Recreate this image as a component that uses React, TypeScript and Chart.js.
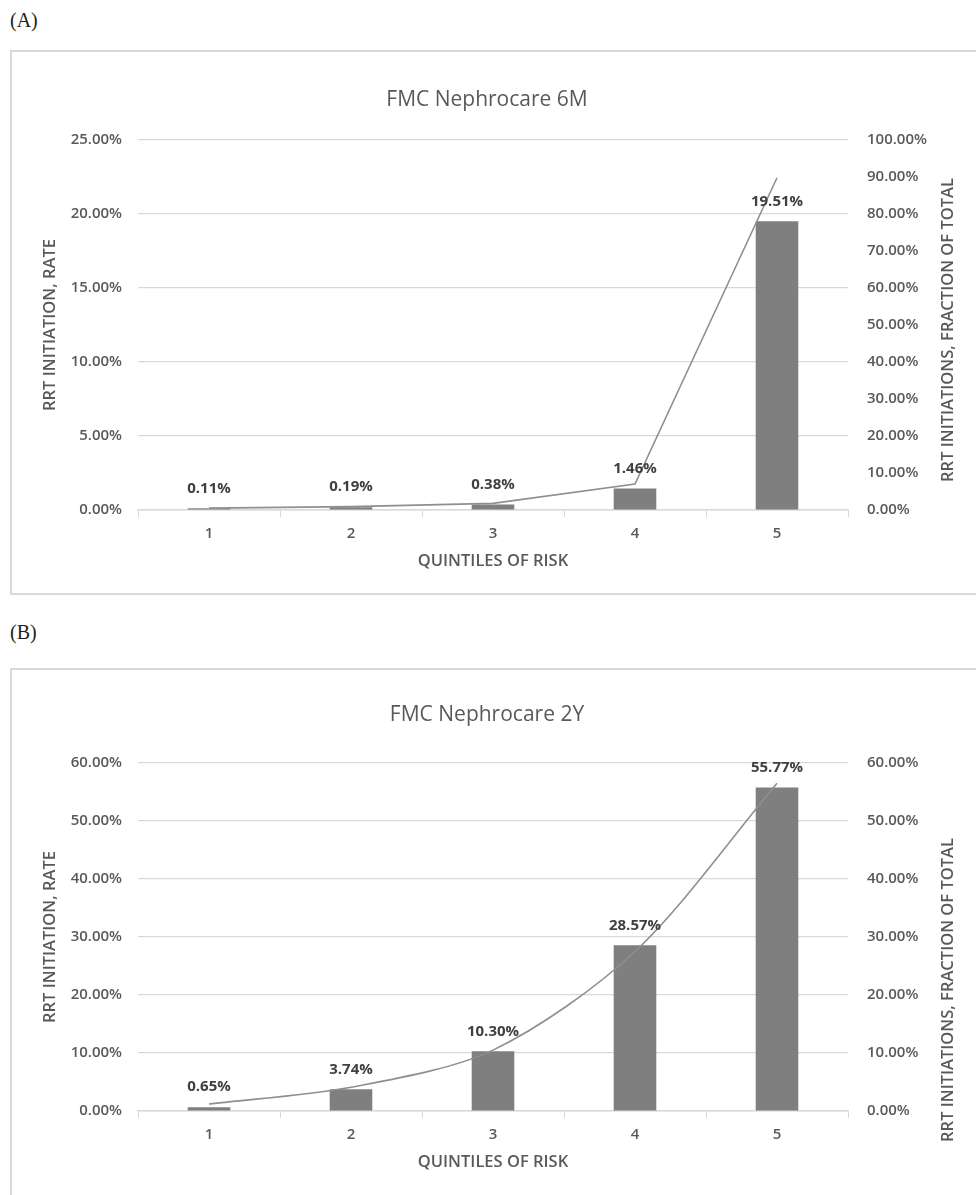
import React, { useEffect, useRef } from "react";
import { Chart, registerables } from "chart.js";

Chart.register(...registerables);

// ---------- data ----------
const categories = ["1", "2", "3", "4", "5"];

const rate6M = [0.11, 0.19, 0.38, 1.46, 19.51];
const fraction6M = [0.5, 0.9, 1.8, 7.0, 89.8];

const rate2Y = [0.65, 3.74, 10.3, 28.57, 55.77];
const fraction2Y = [1.2, 4.1, 10.5, 27.5, 56.5];

const title6M = "FMC Nephrocare 6M";
const title2Y = "FMC Nephrocare 2Y";
const panelA = "(A)";
const panelB = "(B)";
const leftAxisTitle = "RRT INITIATION, RATE";
const rightAxisTitle = "RRT INITIATIONS, FRACTION OF TOTAL";
const xAxisTitle = "QUINTILES OF RISK";

// ---------- styling ----------
const FONT = "'Open Sans', 'Noto Sans', sans-serif";
const TEXT = "#595959";
const GRID = "#d9d9d9";
const BAR = "#7f7f7f";
const LINE = "#8f8f8f";

const BOX_LEFT = 10;
const CANVAS_W = 970;

type Props = {
  top: number;
  padTop: number;
  plotH: number;
  boxH: number;
  title: string;
  titleY: number;
  rightTitleY: number;
  rates: number[];
  fractions: number[];
  leftMax: number;
  leftStep: number;
  rightMax: number;
  rightStep: number;
  tension: number;
};

function ComboChart(p: Props) {
  const ref = useRef<HTMLCanvasElement | null>(null);
  const bottomGap = 85;
  const canvasH = p.padTop + p.plotH + bottomGap;

  useEffect(() => {
    if (!ref.current) return;
    const decor = {
      id: "decor",
      afterDatasetsDraw(chart: any) {
        const ctx = chart.ctx;
        ctx.save();
        const meta = chart.getDatasetMeta(0);
        ctx.font = `bold 15px ${FONT}`;
        ctx.fillStyle = "#404040";
        ctx.textAlign = "center";
        ctx.textBaseline = "middle";
        meta.data.forEach((el: any, i: number) => {
          ctx.fillText(p.rates[i].toFixed(2) + "%", el.x, el.y - 20);
        });
        ctx.restore();
      },
      afterDraw(chart: any) {
        const ctx = chart.ctx;
        const a = chart.chartArea;
        ctx.save();
        ctx.fillStyle = TEXT;
        ctx.textAlign = "center";
        ctx.textBaseline = "middle";
        // chart title
        ctx.font = `21px ${FONT}`;
        ctx.fillText(p.title, 477, p.titleY);
        // x axis title
        ctx.font = `600 16.5px ${FONT}`;
        ctx.fillText(xAxisTitle, (a.left + a.right) / 2, a.bottom + 51);
        // left axis title
        ctx.save();
        ctx.translate(40, (a.top + a.bottom) / 2);
        ctx.rotate(-Math.PI / 2);
        ctx.fillText(leftAxisTitle, 0, 0);
        ctx.restore();
        // right axis title
        ctx.save();
        ctx.translate(938, p.rightTitleY);
        ctx.rotate(-Math.PI / 2);
        ctx.fillText(rightAxisTitle, 0, 0);
        ctx.restore();
        ctx.restore();
      },
    };

    const tickFont = { family: FONT, size: 15, weight: "600" };
    const chart = new Chart(ref.current, {
      type: "bar",
      data: {
        labels: categories,
        datasets: [
          {
            type: "bar",
            data: p.rates,
            backgroundColor: BAR,
            barPercentage: 0.3,
            categoryPercentage: 1.0,
            yAxisID: "y",
            order: 2,
          } as any,
          {
            type: "line",
            data: p.fractions,
            borderColor: LINE,
            borderWidth: 1.6,
            pointRadius: 0,
            fill: false,
            tension: p.tension,
            yAxisID: "y1",
            order: 1,
          } as any,
        ],
      },
      options: {
        animation: false,
        responsive: false,
        devicePixelRatio: 1,
        layout: { padding: { top: p.padTop, left: 0, right: 0, bottom: 0 } },
        plugins: {
          legend: { display: false },
          tooltip: { enabled: false },
          title: { display: false },
        },
        scales: {
          x: {
            offset: true,
            grid: {
              offset: true,
              drawOnChartArea: false,
              drawTicks: true,
              tickLength: 7,
              color: GRID,
            },
            border: { color: GRID, width: 1.5 },
            ticks: { color: TEXT, font: tickFont, padding: 8 },
            afterFit: (s: any) => {
              s.height = bottomGap;
            },
          },
          y: {
            position: "left",
            min: 0,
            max: p.leftMax,
            ticks: {
              stepSize: p.leftStep,
              color: TEXT,
              font: tickFont,
              padding: 16,
              callback: (v: any) => Number(v).toFixed(2) + "%",
            },
            grid: { color: GRID, drawTicks: false, lineWidth: 1.2 },
            border: { display: false },
            afterFit: (s: any) => {
              s.width = 128;
            },
          },
          y1: {
            position: "right",
            min: 0,
            max: p.rightMax,
            ticks: {
              stepSize: p.rightStep,
              color: TEXT,
              font: tickFont,
              padding: 19,
              callback: (v: any) => Number(v).toFixed(2) + "%",
            },
            grid: { drawOnChartArea: false, drawTicks: false },
            border: { display: false },
            afterFit: (s: any) => {
              s.width = 132;
            },
          },
        },
      } as any,
      plugins: [decor as any],
    });
    return () => chart.destroy();
  }, []);

  return (
    <>
      <div
        style={{
          position: "absolute",
          left: BOX_LEFT,
          top: p.top,
          width: CANVAS_W + 10,
          height: p.boxH,
          border: `2px solid ${GRID}`,
          boxSizing: "border-box",
          background: "#fff",
        }}
      />
      <canvas
        ref={ref}
        width={CANVAS_W}
        height={canvasH}
        style={{
          position: "absolute",
          left: BOX_LEFT,
          top: p.top,
          width: CANVAS_W,
          height: canvasH,
        }}
      />
    </>
  );
}

export default function App() {
  const panelStyle: React.CSSProperties = {
    position: "absolute",
    left: 10,
    fontFamily: "'Liberation Serif', 'DejaVu Serif', serif",
    fontSize: 20,
    color: "#222",
    lineHeight: "22px",
  };
  return (
    <div
      style={{
        position: "relative",
        width: 976,
        height: 1195,
        overflow: "hidden",
        background: "#fff",
      }}
    >
      <style>{`body{margin:0;}`}</style>
      <div style={{ ...panelStyle, top: 9 }}>{panelA}</div>
      <ComboChart
        top={50}
        padTop={90}
        plotH={370}
        boxH={545}
        title={title6M}
        titleY={50}
        rightTitleY={280}
        rates={rate6M}
        fractions={fraction6M}
        leftMax={25}
        leftStep={5}
        rightMax={100}
        rightStep={10}
        tension={0}
      />
      <div style={{ ...panelStyle, top: 621 }}>{panelB}</div>
      <ComboChart
        top={668}
        padTop={95}
        plotH={348}
        boxH={560}
        title={title2Y}
        titleY={47}
        rightTitleY={322}
        rates={rate2Y}
        fractions={fraction2Y}
        leftMax={60}
        leftStep={10}
        rightMax={60}
        rightStep={10}
        tension={0.3}
      />
    </div>
  );
}
